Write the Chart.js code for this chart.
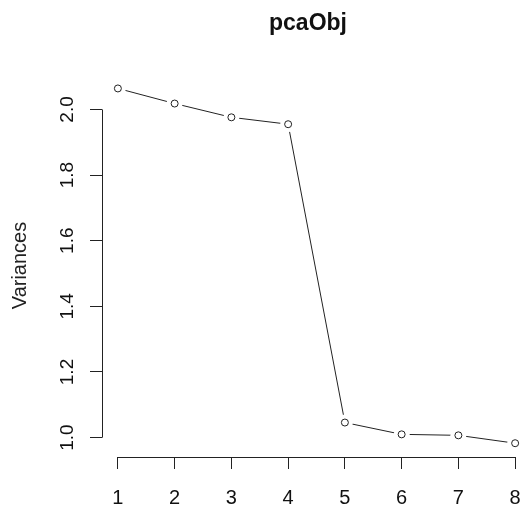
<!DOCTYPE html>
<html lang="en">
<head>
    <meta charset="UTF-8">
    <title>pcaObj</title>
    <style>
        body {
            margin: 0;
            background-color: white;
        }
        #wrap {
            width: 522px;
            height: 510px;
        }
    </style>
    <script src="https://cdn.jsdelivr.net/npm/chart.js"></script>
</head>
<body>
    <div id="wrap"><canvas id="screePlot"></canvas></div>

    <script>
        const components = [1, 2, 3, 4, 5, 6, 7, 8];
        const variances = [2.064, 2.018, 1.976, 1.955, 1.046, 1.010, 1.007, 0.983];
        const xTicks = [1, 2, 3, 4, 5, 6, 7, 8];
        const yTicks = [1.0, 1.2, 1.4, 1.6, 1.8, 2.0];

        const points = components.map((c, i) => ({ x: c, y: variances[i] }));
        const ink = '#222';

        // R style axis lines: only from the first to the last tick
        const rAxes = {
            id: 'rAxes',
            afterDraw(chart) {
                const { ctx, chartArea, scales } = chart;
                const x = scales.x, y = scales.y;
                ctx.save();
                ctx.strokeStyle = ink;
                ctx.lineWidth = 1;
                ctx.beginPath();
                ctx.moveTo(x.getPixelForValue(xTicks[0]), chartArea.bottom + 0.5);
                ctx.lineTo(x.getPixelForValue(xTicks[xTicks.length - 1]), chartArea.bottom + 0.5);
                ctx.moveTo(chartArea.left + 0.5, y.getPixelForValue(yTicks[0]));
                ctx.lineTo(chartArea.left + 0.5, y.getPixelForValue(yTicks[yTicks.length - 1]));
                ctx.stroke();
                ctx.restore();
            }
        };

        const ctx = document.getElementById('screePlot').getContext('2d');
        const screePlot = new Chart(ctx, {
            type: 'line',
            data: {
                datasets: [{
                    label: 'points',
                    data: points,
                    showLine: false,
                    pointRadius: 3.5,
                    pointBorderWidth: 1,
                    pointBorderColor: ink,
                    pointBackgroundColor: 'white',
                    clip: false
                }, {
                    label: 'gaps',
                    data: points,
                    showLine: false,
                    pointRadius: 8,
                    pointBorderWidth: 0,
                    pointBackgroundColor: 'white',
                    clip: false
                }, {
                    label: 'line',
                    data: points,
                    borderColor: ink,
                    borderWidth: 1,
                    pointRadius: 0,
                    tension: 0,
                    fill: false,
                    clip: false
                }]
            },
            options: {
                responsive: true,
                maintainAspectRatio: false,
                animation: false,
                layout: { padding: 0 },
                plugins: {
                    legend: { display: false },
                    tooltip: { enabled: false },
                    title: {
                        display: true,
                        text: 'pcaObj',
                        fullSize: false,
                        color: '#111',
                        font: { family: 'Liberation Sans, Arial, sans-serif', size: 23, weight: 'bold', lineHeight: 1.2 },
                        padding: { top: 10, bottom: 36.4 }
                    }
                },
                scales: {
                    x: {
                        type: 'linear',
                        min: 0.72,
                        max: 7.98,
                        afterBuildTicks: s => { s.ticks = xTicks.map(v => ({ value: v })); },
                        afterFit: s => { s.height = 53; s.paddingLeft = 0; s.paddingRight = 0; },
                        border: { display: false },
                        grid: { drawOnChartArea: false, drawTicks: true, tickLength: 12, color: ink, tickWidth: 1 },
                        ticks: {
                            color: '#111',
                            padding: 17,
                            maxRotation: 0,
                            autoSkip: false,
                            font: { family: 'Liberation Sans, Arial, sans-serif', size: 20 }
                        }
                    },
                    y: {
                        type: 'linear',
                        min: 0.941,
                        max: 2.108,
                        afterBuildTicks: s => { s.ticks = yTicks.map(v => ({ value: v })); },
                        afterFit: s => { s.width = 102; s.paddingTop = 0; s.paddingBottom = 0; },
                        border: { display: false },
                        grid: { drawOnChartArea: false, drawTicks: true, tickLength: 12, color: ink, tickWidth: 1 },
                        title: {
                            display: true,
                            text: 'Variances',
                            color: '#222',
                            padding: { top: 8, bottom: 0 },
                            font: { family: 'Liberation Sans, Arial, sans-serif', size: 20 }
                        },
                        ticks: {
                            color: '#111',
                            padding: 9,
                            minRotation: 90,
                            maxRotation: 90,
                            crossAlign: 'center',
                            autoSkip: false,
                            callback: v => v.toFixed(1),
                            font: { family: 'Liberation Sans, Arial, sans-serif', size: 19 }
                        }
                    }
                }
            },
            plugins: [rAxes]
        });
    </script>
</body>
</html>
